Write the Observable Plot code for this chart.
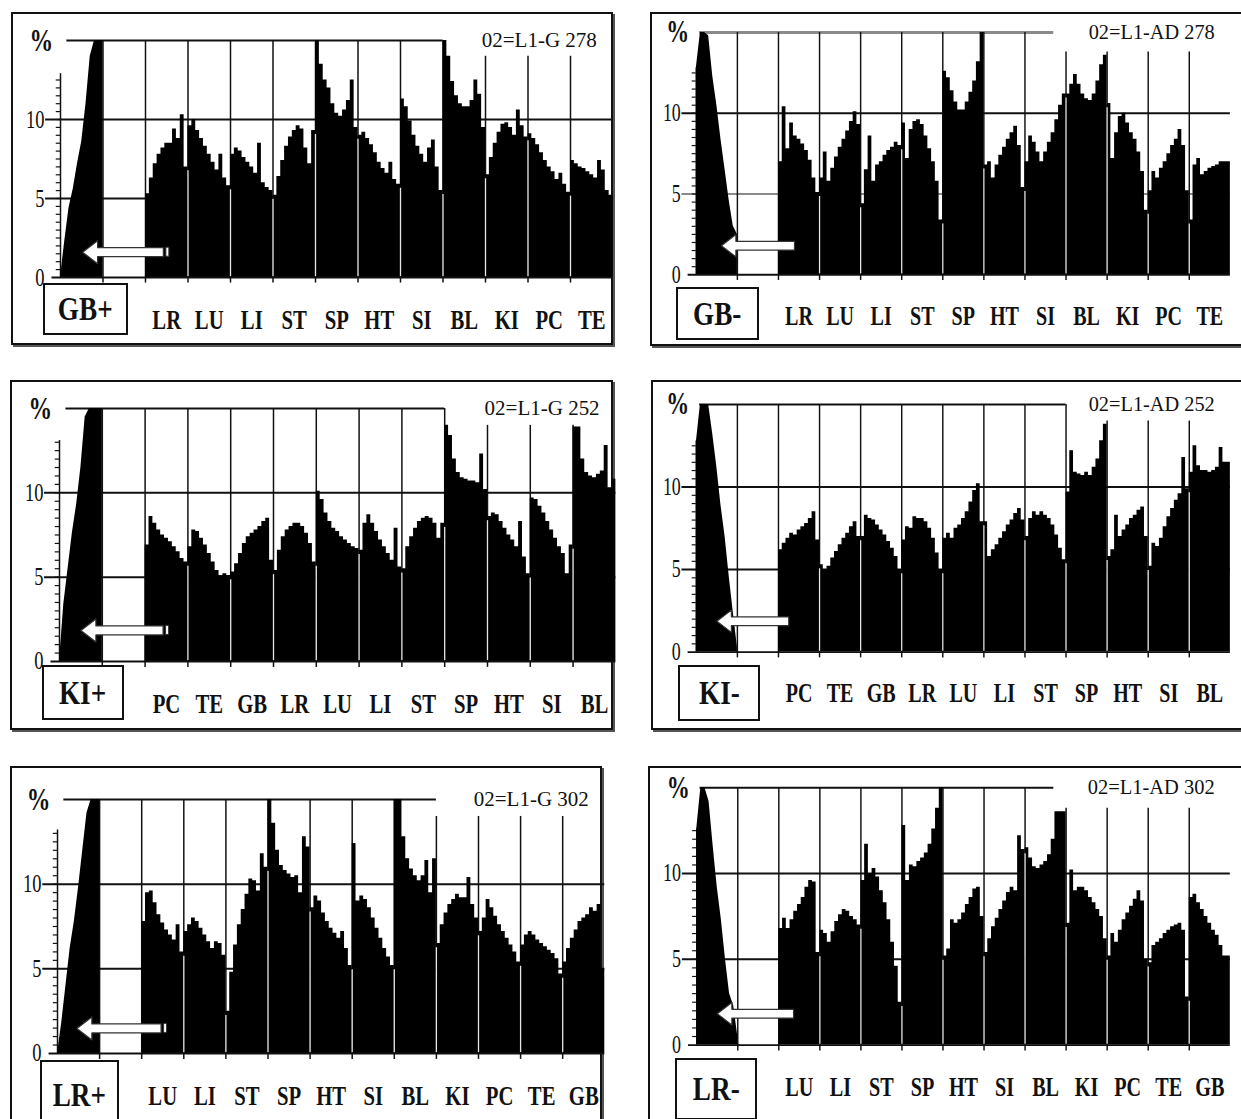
<!DOCTYPE html>
<html><head><meta charset="utf-8">
<script src="https://cdn.jsdelivr.net/npm/d3@7"></script>
<script src="https://cdn.jsdelivr.net/npm/@observablehq/plot@0.6"></script>
<style>
html,body{margin:0;padding:0;background:#fff;}
body{width:1241px;height:1119px;overflow:hidden;position:relative;font-family:"Liberation Serif",serif;}
.frame{position:absolute;border:2px solid #111;box-shadow:2px 2px 0 #555;box-sizing:border-box;}
.box{position:absolute;border:2px solid #111;background:#fff;box-sizing:border-box;display:flex;align-items:center;justify-content:center;font-size:34px;font-weight:bold;color:#111;line-height:1;}
.box span{display:inline-block;transform:scaleX(0.8);}
.panel{position:absolute;}
</style></head>
<body>
<script>
// ---------- data ----------
const organsGB = ["LR","LU","LI","ST","SP","HT","SI","BL","KI","PC","TE"];
const organsKI = ["PC","TE","GB","LR","LU","LI","ST","SP","HT","SI","BL"];
const organsLR = ["LU","LI","ST","SP","HT","SI","BL","KI","PC","TE","GB"];
const panelNames = ["GB+","GB-","KI+","KI-","LR+","LR-"];
const panelCodes = ["02=L1-G 278","02=L1-AD 278","02=L1-G 252","02=L1-AD 252","02=L1-G 302","02=L1-AD 302"];
const yTicks = [0,5,10];

const gbPlus = [
 [0,2.3,4.4,5.6,7.2,8.6,11.0,14.0,15,15,15],
 [],
 [5.3,6.3,7.2,7.8,8.2,8.5,8.5,9.4,8.8,10.3,7.0],
 [9.6,10.0,9.3,8.8,8.3,7.8,7.3,6.8,7.8,6.3,5.8],
 [7.8,8.2,8.0,7.6,7.3,7.0,6.6,8.5,6.0,5.7,5.5],
 [5.2,6.4,7.4,8.3,8.9,9.3,9.6,9.4,8.2,7.2,9.3],
 [15,13.5,12.5,12.0,11.0,10.4,10.2,10.6,11.2,12.5,9.5],
 [9.0,9.2,8.8,8.4,7.9,7.3,6.9,6.6,7.3,6.2,5.9],
 [11.3,10.8,9.9,9.0,8.3,7.8,7.3,8.2,8.7,7.0,5.5],
 [15,14.0,12.4,11.5,11.0,10.8,10.8,11.2,12.5,11.6,9.5],
 [6.5,7.6,8.5,9.2,9.7,9.8,9.5,9.0,10.6,9.6,8.9],
 [9.1,8.8,8.4,7.9,7.4,7.0,6.7,6.2,6.6,5.9,5.4],
 [7.4,7.2,7.0,6.9,6.7,6.5,6.3,7.4,6.8,5.5,5.2]
];
const gbMinus = [
 [12.8,15,15,14.8,12.3,10.5,8.4,6.5,4.6,3.0,2.5],
 [],
 [7.0,10.4,7.8,9.4,8.6,8.4,8.1,7.7,7.1,6.0,5.1],
 [6.0,7.6,5.8,6.6,7.3,7.9,8.4,8.9,9.5,10.1,9.3],
 [4.4,6.5,8.6,5.8,6.8,7.0,7.4,7.7,7.9,8.2,8.0],
 [9.4,7.2,9.0,9.5,9.6,9.3,8.6,7.8,7.0,5.8,3.4],
 [12.6,12.2,11.4,10.7,10.2,10.2,10.7,11.3,12.0,13.2,15],
 [6.8,7.0,6.0,6.8,7.4,7.9,8.4,8.8,9.2,8.0,5.4],
 [7.0,8.6,8.2,7.6,7.0,7.6,8.2,8.8,9.6,10.5,11.2],
 [11.2,11.8,12.4,11.8,11.2,10.9,10.8,11.2,12.0,13.0,13.6],
 [10.6,7.2,8.8,9.8,10.0,9.4,8.8,8.4,7.6,6.4,4.0],
 [5.2,6.4,6.0,6.6,7.0,7.5,8.0,8.4,9.0,8.0,5.2],
 [3.4,6.8,7.2,6.2,6.4,6.6,6.7,6.8,7.0,7.0,7.0]
];
const kiPlus = [
 [0,3.4,5.5,7.6,9.3,11.5,14.5,15,15,15,15],
 [],
 [6.9,8.6,8.2,7.8,7.5,7.3,7.1,6.8,6.5,6.1,5.9],
 [6.8,7.8,7.7,7.3,6.9,6.4,5.9,5.4,5.1,5.2,5.1],
 [5.3,5.8,6.4,7.0,7.4,7.6,7.8,8.0,8.3,8.5,6.0],
 [5.4,6.6,7.4,7.8,8.0,8.2,8.2,8.0,7.6,7.0,5.9],
 [10.1,9.6,8.8,8.3,7.9,7.7,7.4,7.2,7.0,6.8,6.7],
 [6.6,8.2,8.7,8.2,7.7,7.2,6.8,6.4,6.0,7.9,5.6],
 [5.5,6.8,7.4,7.9,8.3,8.5,8.6,8.5,8.2,7.3,8.2],
 [14.0,13.4,12.0,11.2,10.9,10.8,10.7,10.7,10.6,12.3,10.2],
 [8.6,8.8,8.7,8.3,7.9,7.5,7.2,6.8,8.3,6.2,5.2],
 [9.7,9.6,9.2,8.8,8.3,7.8,7.3,6.8,6.4,5.2,6.9],
 [13.9,13.9,12.0,11.2,11.0,10.9,11.1,11.3,12.8,10.3,10.8]
];
const kiMinus = [
 [12.7,15,15,15,13.2,11.2,8.9,7.0,4.6,2.4,0.3],
 [],
 [6.2,6.6,6.9,7.2,7.1,7.4,7.6,7.8,8.1,8.5,6.8],
 [5.3,5.0,5.2,5.7,6.1,6.5,6.9,7.2,7.6,7.9,7.0],
 [7.0,8.3,8.1,8.0,7.7,7.4,7.1,6.7,6.3,5.8,5.0],
 [6.8,7.6,7.5,8.2,8.1,8.1,7.9,7.5,6.9,6.0,5.0],
 [6.9,7.2,6.9,7.5,7.7,8.1,8.5,9.1,9.8,10.2,7.9],
 [7.9,5.8,6.2,6.5,6.9,7.3,7.7,8.0,8.4,8.7,8.0],
 [7.0,8.1,8.5,8.3,8.5,8.3,8.1,7.7,7.1,6.3,5.6],
 [9.7,12.2,10.9,10.8,10.7,10.9,10.7,11.2,11.7,12.8,13.8],
 [5.8,6.2,8.3,7.0,7.4,7.7,8.1,8.3,8.6,8.8,7.0],
 [5.2,6.6,6.4,6.9,7.6,8.2,8.7,9.2,9.6,11.8,9.9],
 [10.9,12.5,11.3,11.0,11.0,10.9,11.0,11.2,12.4,11.5,11.5]
];
const lrPlus = [
 [0,1.8,4.0,6.2,7.8,9.8,12.0,14.2,15,15,15],
 [],
 [7.8,9.5,9.6,8.9,8.2,7.7,7.3,7.0,6.7,7.6,6.0],
 [7.2,7.6,8.0,7.8,7.4,7.0,6.6,6.2,6.6,6.5,5.8],
 [2.5,4.8,6.4,7.6,8.5,9.4,10.3,10.2,9.6,11.8,11.0],
 [15,13.6,12.0,11.1,10.8,10.6,10.4,10.5,9.5,12.8,12.2],
 [8.6,9.3,9.0,8.3,7.8,7.4,7.1,6.8,7.2,6.2,5.2],
 [12.4,9.0,9.3,9.1,8.6,8.0,7.4,6.8,6.2,5.7,5.2],
 [15,15,12.8,11.5,10.9,10.5,10.2,10.5,11.4,9.5,11.5],
 [6.5,7.6,8.3,8.8,9.1,9.4,9.2,9.2,10.4,8.8,8.0],
 [7.2,8.0,9.1,8.6,8.1,7.6,7.2,6.8,6.4,6.0,5.4],
 [6.4,7.0,7.2,7.0,6.7,6.5,6.3,6.1,5.9,5.6,4.7],
 [5.4,6.2,6.8,7.3,7.8,8.0,8.2,8.6,8.4,8.8,5.0]
];
const lrMinus = [
 [12.6,15,15,14.2,11.6,9.2,7.3,5.0,3.0,2.3,0.5],
 [],
 [6.8,7.4,6.8,7.3,7.8,8.2,8.6,9.2,9.6,9.5,5.4],
 [6.7,6.5,6.0,6.6,7.2,7.6,7.9,7.8,7.5,7.3,7.0],
 [9.6,11.7,10.0,10.3,9.8,9.0,8.3,7.3,6.0,4.6,2.5],
 [12.8,9.6,10.5,10.4,10.7,10.9,11.2,11.7,12.6,13.8,15],
 [5.2,5.6,7.3,7.1,7.3,7.7,8.2,8.6,9.1,9.2,7.5],
 [5.4,6.2,6.9,7.4,7.9,8.4,8.9,9.2,9.0,12.2,11.4],
 [11.5,10.9,10.4,10.3,10.5,10.7,11.1,12.0,13.6,13.6,13.6],
 [7.1,10.2,9.0,9.2,9.2,9.0,8.6,8.3,7.9,7.5,6.2],
 [5.2,6.5,6.0,6.7,7.3,7.7,8.1,8.5,9.0,8.4,5.0],
 [4.8,5.8,6.0,6.2,6.5,6.7,6.9,7.0,7.1,6.7,2.8],
 [8.6,8.8,8.3,7.9,7.5,7.1,6.7,6.4,5.8,5.2,5.2]
];
const panelValues = [gbPlus, gbMinus, kiPlus, kiMinus, lrPlus, lrMinus];
const panelLabels = [organsGB, organsGB, organsKI, organsKI, organsLR, organsLR];

// ---------- layout (pixels on the page) ----------
const layout = [
 {frame:[11,12,602,333], x0:60,   x13:612.5,  y0:277,  y15:40,  box:[43,283,85,52],  arrow:{tip:0.52,end:2.42,y:1.6,tail:true},  topStart:0.15, topEnd:9,   shortFrom:10, shortTop:14,   axisTop:12.9, gray:false},
 {frame:[650,12,620,334], x0:697.5,x13:1248.7, y0:283,  y15:33,  box:[676,287,83,53], arrow:{tip:0.61,end:2.39,y:1.8,tail:false}, topStart:0.08, topEnd:8.7, shortFrom:9,  shortTop:13.8, axisTop:12.8, gray:true},
 {frame:[10,380,603,350], x0:59,   x13:615.4,  y0:661,  y15:408, box:[42,665,82,55],  arrow:{tip:0.5,end:2.42,y:1.84,tail:true},  topStart:0.15, topEnd:9,   shortFrom:10, shortTop:14,   axisTop:13.1, gray:false},
 {frame:[651,380,620,350], x0:697.5,x13:1248.7, y0:660,  y15:404.5,box:[678,665,82,56],arrow:{tip:0.5,end:2.25,y:1.87,tail:false}, topStart:0.08, topEnd:9,   shortFrom:10, shortTop:14,   axisTop:12.8, gray:false},
 {frame:[10,766,592,380], x0:57,   x13:604.3,  y0:1053, y15:799, box:[40,1060,79,70], arrow:{tip:0.46,end:2.46,y:1.48,tail:true},  topStart:0.15, topEnd:9,   shortFrom:9,  shortTop:14,   axisTop:13.2, gray:false},
 {frame:[648,766,620,380], x0:697.5,x13:1244.8, y0:1052, y15:788, box:[675,1058,82,62],arrow:{tip:0.5,end:2.36,y:1.83,tail:false}, topStart:0.08, topEnd:8.7, shortFrom:9,  shortTop:13.8, axisTop:12.6, gray:false}
];

function drawPanel(i) {
  const L = layout[i], vals = panelValues[i], labels = panelLabels[i];
  const ml = 70, mr = 12, mt = 30, mb = 70;
  const pw = L.x13 - L.x0, ph = L.y0 - L.y15;
  const w = ml + pw + mr, h = mt + ph + mb;
  const xu = 13 / pw, yu = 15 / ph; // data units per pixel

  const ramp = vals[0].map((v, j, a) => ({x: j / (a.length - 1), y: v}));
  const organ = [];
  vals.forEach((seg, s) => {
    if (s === 0 || !seg.length) return;
    const n = seg.length;
    seg.forEach((v, j) => organ.push({s, x: s + j / n, y: v}));
    organ.push({s, x: s + 1, y: seg[n - 1]});
  });
  const seps = [];
  for (let k = 3; k < 13; k++) {
    const a = vals[k - 1], b = vals[k];
    seps.push({x: k, y: Math.min(a[a.length - 1], b[0])});
  }
  const grid = d3.range(1, 13).map(k => ({x: k, top: k >= L.shortFrom ? L.shortTop : 15}));
  const minor = d3.range(0.5, L.axisTop + 0.01, 0.5);
  const A = L.arrow;
  const headL = 15 * xu, headH = 11.5 * yu, shaftH = 4.5 * yu;
  const poly = [[A.tip, A.y], [A.tip + headL, A.y + headH], [A.tip + headL, A.y + shaftH], [A.end, A.y + shaftH],
                [A.end, A.y - shaftH], [A.tip + headL, A.y - shaftH], [A.tip + headL, A.y - headH]].map(([x, y]) => ({x, y}));
  const c5 = L.gray ? "#8a8a8a" : "#111", c15 = L.gray ? "#8a8a8a" : "#111";

  const marks = [
    Plot.ruleY([5], {x1: -0.35, x2: 13, stroke: c5, strokeWidth: 2}),
    Plot.ruleY([10], {x1: -0.35, x2: 13, stroke: "#111", strokeWidth: 2}),
    Plot.ruleY([15], {x1: L.topStart, x2: L.topEnd, stroke: c15, strokeWidth: L.gray ? 3 : 2}),
    Plot.ruleX(grid, {x: "x", y1: -0.35, y2: "top", stroke: "#111", strokeWidth: 1.5}),
    Plot.ruleX([0], {y1: 0, y2: L.axisTop, stroke: "#111", strokeWidth: 1.5}),
    Plot.ruleY(minor, {x1: -0.1, x2: 0, stroke: "#111", strokeWidth: 1.2}),
    Plot.area(ramp, {x1: "x", y1: 0, y2: "y", fill: "#000", curve: "linear"}),
    Plot.area(organ, {x1: "x", y1: 0, y2: "y", z: "s", fill: "#000", curve: "step-after"}),
    Plot.ruleX(seps, {x: "x", y1: 0.05, y2: d => d.y - 0.25, stroke: "#e6e6e6", strokeWidth: 1.3}),
    Plot.ruleY([0], {x1: -0.2, x2: 13, stroke: "#111", strokeWidth: 2}),
    Plot.line(poly, {x: "x", y: "y", fill: "#fff", stroke: "#333", strokeWidth: 1.2, curve: "linear-closed"}),
    Plot.axisX(d3.range(2.5, 13, 1), {anchor: "bottom", tickSize: 0, tickPadding: 32, fontSize: 28, fontWeight: "bold", label: null,
      tickFormat: d => labels[Math.floor(d) - 2]}),
    Plot.axisY(yTicks, {anchor: "left", tickSize: 0, tickPadding: 16, fontSize: 25, label: null}),
    Plot.text(["%"], {x: -0.45, y: 15, text: d => d, fontSize: 32, fontWeight: "bold"}),
    Plot.text([panelCodes[i]], {x: 12.62, y: 15, text: d => d, fontSize: 21, textAnchor: "end"})
  ];
  if (A.tail) marks.push(Plot.rect([0], {x1: A.end + 3 * xu, x2: A.end + 6 * xu, y1: A.y - shaftH, y2: A.y + shaftH, fill: "#fff", stroke: "#333", strokeWidth: 1}));

  const svg = Plot.plot({
    width: w, height: h, marginLeft: ml, marginRight: mr, marginTop: mt, marginBottom: mb,
    x: {domain: [0, 13]}, y: {domain: [0, 15]},
    style: {fontFamily: '"Liberation Serif", serif', color: "#111", background: "transparent", overflow: "visible"},
    marks
  });
  svg.querySelectorAll("text").forEach(t => {
    if (t.textContent.startsWith("02=")) return;
    const tr = t.getAttribute("transform") || "";
    t.setAttribute("transform", tr + " scale(0.74,1)");
  });

  const f = document.createElement("div");
  f.className = "frame";
  Object.assign(f.style, {left: L.frame[0] + "px", top: L.frame[1] + "px", width: L.frame[2] + "px", height: L.frame[3] + "px"});
  document.body.appendChild(f);

  const wrap = document.createElement("div");
  wrap.className = "panel";
  Object.assign(wrap.style, {left: (L.x0 - ml) + "px", top: (L.y15 - mt) + "px"});
  wrap.appendChild(svg);
  document.body.appendChild(wrap);

  const b = document.createElement("div");
  b.className = "box";
  Object.assign(b.style, {left: L.box[0] + "px", top: L.box[1] + "px", width: L.box[2] + "px", height: L.box[3] + "px"});
  const sp = document.createElement("span");
  sp.textContent = panelNames[i];
  b.appendChild(sp);
  document.body.appendChild(b);
}
for (let i = 0; i < 6; i++) drawPanel(i);
</script>
</body></html>
